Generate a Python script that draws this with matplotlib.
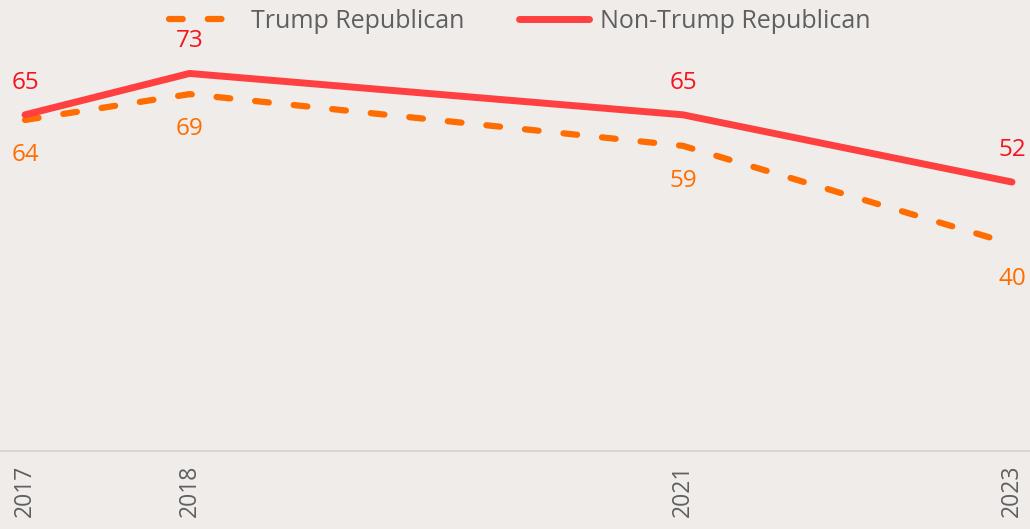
import matplotlib
matplotlib.use("Agg")
import matplotlib.pyplot as plt

years = [2017, 2018, 2021, 2023]
trump_rep = [64, 69, 59, 40]
non_trump_rep = [65, 73, 65, 52]

BG = "#f0ecea"
RED = "#ff4040"
RED_TXT = "#f5141e"
ORANGE = "#ff6d00"
GREY = "#5f5f5f"

plt.rcParams["font.family"] = ["Open Sans", "DejaVu Sans"]

fig = plt.figure(figsize=(10.30, 5.29), dpi=100, facecolor=BG)
ax = fig.add_axes([0, 78 / 529, 1, 451 / 529])
ax.set_facecolor(BG)

ax.plot(years, trump_rep, color=ORANGE, lw=4.5, dashes=(2.2, 4.0),
        dash_capstyle="round", solid_capstyle="round", label="Trump Republican")
ax.plot(years, non_trump_rep, color=RED, lw=5, solid_capstyle="round",
        label="Non-Trump Republican")

for x, y in zip(years, non_trump_rep):
    ax.annotate(str(y), (x, y), xytext=(0, 23), textcoords="offset points",
                ha="center", va="center", fontsize=17.5, color=RED_TXT)
for x, y in zip(years, trump_rep):
    ax.annotate(str(y), (x, y), xytext=(0, -25), textcoords="offset points",
                ha="center", va="center", fontsize=17.5, color=ORANGE)

ax.set_xlim(2017 - 25 / 164.5, 2023 + 18 / 164.5)
ax.set_ylim(0, 87.2)
ax.set_xticks(years)
ax.set_xticklabels([str(y) for y in years], rotation=90, fontsize=16.5, color=GREY)
ax.tick_params(axis="x", length=0, pad=10)
ax.set_yticks([])

for side in ["top", "right", "left"]:
    ax.spines[side].set_visible(False)
ax.spines["bottom"].set_color("#d8d6d4")
ax.spines["bottom"].set_linewidth(1.5)

leg = ax.legend(loc="upper center", bbox_to_anchor=(0.505, 1.03), ncol=2,
                frameon=False, fontsize=18, handlelength=2.8, handletextpad=0.45,
                columnspacing=2.2, labelcolor=GREY)

fig.savefig("out.png", dpi=100, facecolor=BG)
